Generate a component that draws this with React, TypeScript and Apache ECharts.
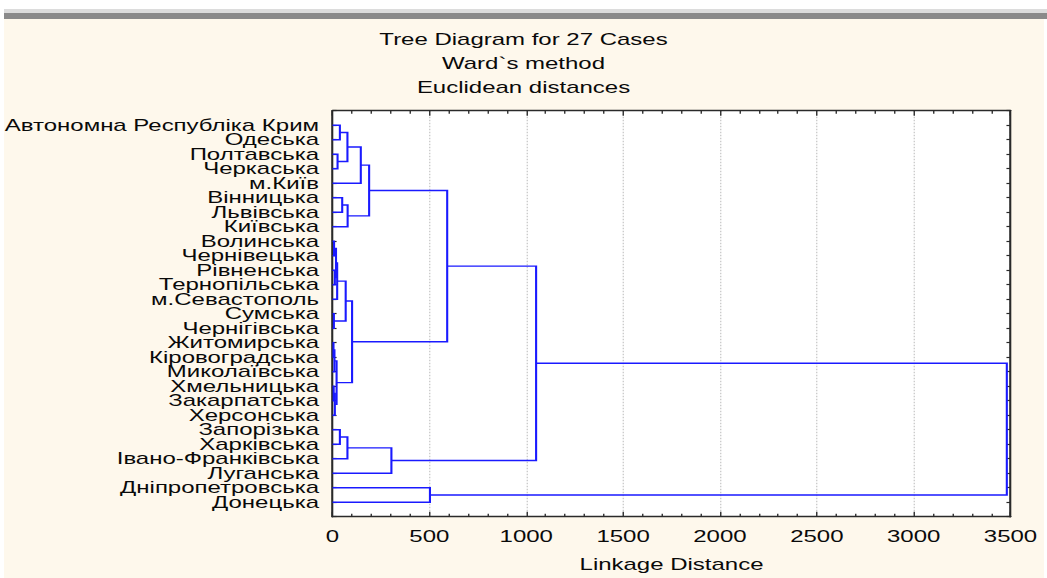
import React, { useEffect, useRef } from 'react';
import * as echarts from 'echarts';

// Leaves, top to bottom
const leaves: string[] = [
  'Автономна Республіка Крим', 'Одеська', 'Полтавська', 'Черкаська', 'м.Київ',
  'Вінницька', 'Львівська', 'Київська', 'Волинська', 'Чернівецька', 'Рівненська',
  'Тернопільська', 'м.Севастополь', 'Сумська', 'Чернігівська', 'Житомирська',
  'Кіровоградська', 'Миколаївська', 'Хмельницька', 'Закарпатська', 'Херсонська',
  'Запорізька', 'Харківська', 'Івано-Франківська', 'Луганська', 'Дніпропетровська', 'Донецька',
];

// Merge steps: node ids 0..26 are leaves, merge k creates node 27+k
const mergeA: number[] = [0, 2, 27, 29, 5, 31, 30, 8, 10, 34, 36, 13, 37, 15, 40, 18, 42, 41, 39, 33, 21, 47, 48, 46, 25, 50];
const mergeB: number[] = [1, 3, 28, 4, 6, 7, 32, 9, 11, 35, 12, 14, 38, 16, 17, 19, 20, 43, 44, 45, 22, 23, 24, 49, 26, 51];
const mergeDist: number[] = [38, 26, 77, 146, 50, 78, 189, 8, 12, 18, 24, 7, 68, 5, 10, 6, 12, 21, 101, 592, 38, 77, 304, 1051, 503, 3481];

const xMin = 0;
const xMax = 3500;
const xStep = 500;
const titleLines = ['Tree Diagram for 27 Cases', 'Ward`s method', 'Euclidean distances'];
const xName = 'Linkage Distance';

const SX = 1.5; // horizontal stretch of the reference
const W = 1047 / SX;
const H = 578;

export default function App() {
  const ref = useRef<HTMLDivElement>(null);
  useEffect(() => {
    if (!ref.current) return;
    const chart = echarts.init(ref.current, null, { renderer: 'svg', width: W, height: H });
    const pos: number[] = leaves.map((_, i) => i);
    const hgt: number[] = leaves.map(() => 0);
    const segs = mergeDist.map((d, k) => {
      const a = mergeA[k];
      const b = mergeB[k];
      const ya = pos[a];
      const yb = pos[b];
      const c = { coords: [[hgt[a], ya], [d, ya], [d, yb], [hgt[b], yb]] };
      pos.push((ya + yb) / 2);
      hgt.push(d);
      return c;
    });
    const font = "'Liberation Sans', Arial, sans-serif";
    const axisLine = { show: true, onZero: false, lineStyle: { color: '#2a2a2a', width: 1.4 } };
    const yCommon = {
      type: 'value' as const,
      min: -1,
      max: leaves.length,
      interval: 1,
      inverse: true,
      splitLine: { show: false },
      axisLine,
      axisTick: { show: true, inside: true, length: 2.7, lineStyle: { color: '#2a2a2a', width: 1.2 } },
    };
    const xCommon = {
      type: 'value' as const,
      min: xMin,
      max: xMax,
      interval: xStep,
      axisLine,
      axisTick: { show: true, inside: true, length: 5, lineStyle: { color: '#2a2a2a', width: 0.9 } },
      minorTick: { show: true, splitNumber: 5, length: 3, lineStyle: { color: '#2a2a2a', width: 0.9 } },
    };
    chart.setOption({
      animation: false,
      backgroundColor: '#ffffff',
      graphic: [
        { type: 'rect', z: -10, shape: { x: 4 / SX, y: 19, width: 1040 / SX, height: H - 19 }, style: { fill: '#fef8ec' } },
        { type: 'rect', z: -10, shape: { x: 4 / SX, y: 9, width: 1043 / SX, height: 4 }, style: { fill: '#dcdcdc' } },
        { type: 'rect', z: -10, shape: { x: 4 / SX, y: 13, width: 1043 / SX, height: 6 }, style: { fill: '#8a8a8a' } },
      ],
      title: {
        text: titleLines.join('\n'),
        left: 'center',
        top: 28,
        padding: 0,
        textStyle: { fontFamily: font, fontSize: 16, fontWeight: 'normal', color: '#0a0a0a', lineHeight: 24 },
      },
      grid: {
        left: 331 / SX,
        right: W - 1010.5 / SX,
        top: 110.7,
        bottom: H - 516.7,
        show: true,
        backgroundColor: '#ffffff',
        borderWidth: 0,
      },
      xAxis: [
        {
          ...xCommon,
          position: 'bottom',
          name: xName,
          nameLocation: 'middle',
          nameGap: 40,
          nameTextStyle: { fontFamily: font, fontSize: 16, color: '#0a0a0a' },
          axisLabel: { fontFamily: font, fontSize: 16, color: '#0a0a0a', margin: 12, formatter: (v: number) => String(v) },
          splitLine: { show: true, lineStyle: { color: '#c4c4c4', width: 0.8, type: [1.5, 1.5] } },
        },
        {
          ...xCommon,
          position: 'top',
          axisLabel: { show: false },
          splitLine: { show: false },
        },
      ],
      yAxis: [
        {
          ...yCommon,
          position: 'left',
          axisLabel: {
            fontFamily: font,
            fontSize: 16,
            lineHeight: 14,
            color: '#0a0a0a',
            margin: 9,
            formatter: (v: number) => leaves[Math.round(v)] ?? '',
          },
        },
        {
          ...yCommon,
          position: 'right',
          axisLabel: { show: false },
        },
      ],
      series: [
        {
          type: 'lines',
          coordinateSystem: 'cartesian2d',
          xAxisIndex: 0,
          yAxisIndex: 0,
          polyline: true,
          silent: true,
          lineStyle: { color: '#1a1aff', width: 1.4, opacity: 1 },
          data: segs,
        },
      ],
    });
    return () => chart.dispose();
  }, []);
  return (
    <div style={{ position: 'fixed', left: 0, top: 0, width: 1047, height: H, overflow: 'hidden', background: '#fff' }}>
      <div ref={ref} style={{ width: W, height: H, transform: `scaleX(${SX})`, transformOrigin: '0 0' }} />
    </div>
  );
}
